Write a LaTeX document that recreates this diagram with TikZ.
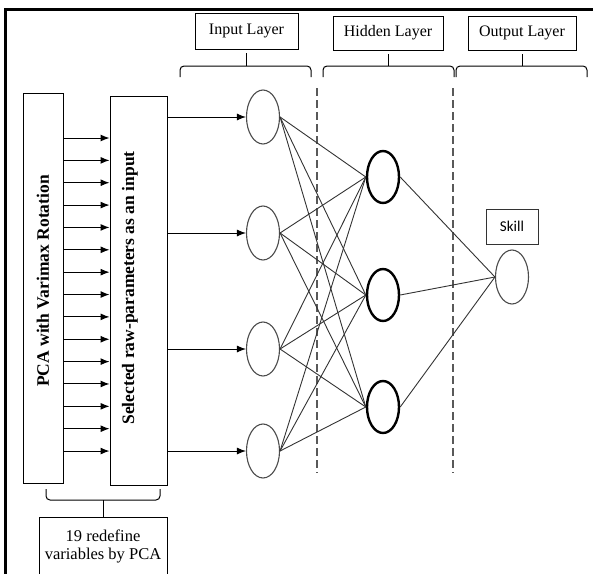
\documentclass[tikz,border=0pt]{standalone}
\usepackage{fontspec}
\setmainfont{Liberation Serif}
\newfontfamily\skillfont{Carlito}
\usetikzlibrary{arrows.meta,positioning,shapes.geometric}

\tikzset{
  box/.style={draw, line width=1pt, inner sep=0pt},
  neuron/.style={draw=black!70, ellipse, line width=1.1pt, minimum width=33pt, minimum height=54pt, inner sep=0pt},
  hneuron/.style={neuron, draw=black, line width=2.4pt, minimum width=32pt, minimum height=52pt},
  link/.style={draw=black!80, line width=0.9pt},
  sep/.style={draw=black!65, line width=1.2pt, dash pattern=on 8pt off 4pt},
  brace/.style={line width=1pt, rounded corners=4pt},
}

\begin{document}
\begin{tikzpicture}[x=1pt,y=-1pt,on grid,>={Latex[length=9pt,width=7pt]},font=\fontsize{16}{18}\selectfont]
  \useasboundingbox (0,0) rectangle (593,573);
  \clip (0,0) rectangle (593,573);
  % frame
  \draw[line width=3pt] (5.5,590) -- (5.5,9) -- (600,9);

  % PCA and selected inputs
  \node[box, minimum width=40pt, minimum height=390pt] (pca) at (43,288) {};
  \node[box, minimum width=57pt, minimum height=389pt] (sel) at (138.5,290.5) {};
  \node[rotate=90, font=\fontsize{17.5}{20}\selectfont\bfseries] (pcatxt) at (43,281) {PCA with Varimax Rotation};
  \node[rotate=90, font=\fontsize{17.5}{20}\selectfont\bfseries] (seltxt) at (130,288) {Selected raw-parameters as an input};
  \foreach \k [evaluate=\k as \y using 138+22.36*\k] in {0,...,14}
    \draw[->, line width=1pt] (pca.east |- 0,\y) -- (sel.west |- 0,\y);

  % layers
  \node[neuron] (in1) at (263,117) {};
  \node[neuron] (in2) [below=116pt of in1] {};
  \node[neuron] (in3) [below=116pt of in2] {};
  \node[neuron] (in4) [below=102pt of in3] {};
  \node[hneuron] (h1) at (383,177) {};
  \node[hneuron] (h2) [below=118pt of h1] {};
  \node[hneuron] (h3) [below=112pt of h2] {};
  \node[neuron] (out) at (512,277) {};
  \node[box, draw=black!80, minimum width=52pt, minimum height=35pt, font=\skillfont\fontsize{15}{17}\selectfont] (skill) [above=50.5pt of out] {Skill};

  \draw[sep] (317,88) -- (317,473);
  \draw[sep] (453,88) -- (453,473);

  \foreach \i in {1,...,4}
    \draw[->, line width=1pt] (sel.east |- in\i) -- (in\i);
  \foreach \i in {1,...,4}
    \foreach \j in {1,2,3}
      \draw[link] (in\i.east) -- (h\j.west);
  \foreach \j in {1,2,3}
    \draw[link] (h\j.east) -- (out.west);

  % layer labels
  \node[box, minimum width=103pt, minimum height=36pt] (inlab) at (246.5,31) {Input Layer};
  \node[box, minimum width=110pt, minimum height=34pt] (hidlab) at (388,33) {Hidden Layer};
  \node[box, minimum width=108pt, minimum height=34pt] (outlab) at (522,33) {Output Layer};
  \draw[brace] (180,77) |- (311,66) -- (311,77);
  \draw[brace] (323,77) |- (454,66) -- (454,77);
  \draw[brace] (456,77) |- (587,66) -- (587,77);
  \draw[brace, shorten >=3pt] (inlab.south |- 0,66) -- (inlab.south);
  \draw[brace, shorten >=3pt] (hidlab.south |- 0,66) -- (hidlab.south);
  \draw[brace, shorten >=3pt] (outlab.south |- 0,66) -- (outlab.south);

  % note below
  \node[box, minimum width=128pt, minimum height=58pt, anchor=north, align=center, font=\fontsize{16.5}{18}\selectfont] (note) at (103,517) {19 redefine\\variables by PCA};
  \draw[brace] (46,489) |- (160,500) -- (160,489);
  \draw[brace] (note.north |- 0,500) -- (note.north);
\end{tikzpicture}
\end{document}
